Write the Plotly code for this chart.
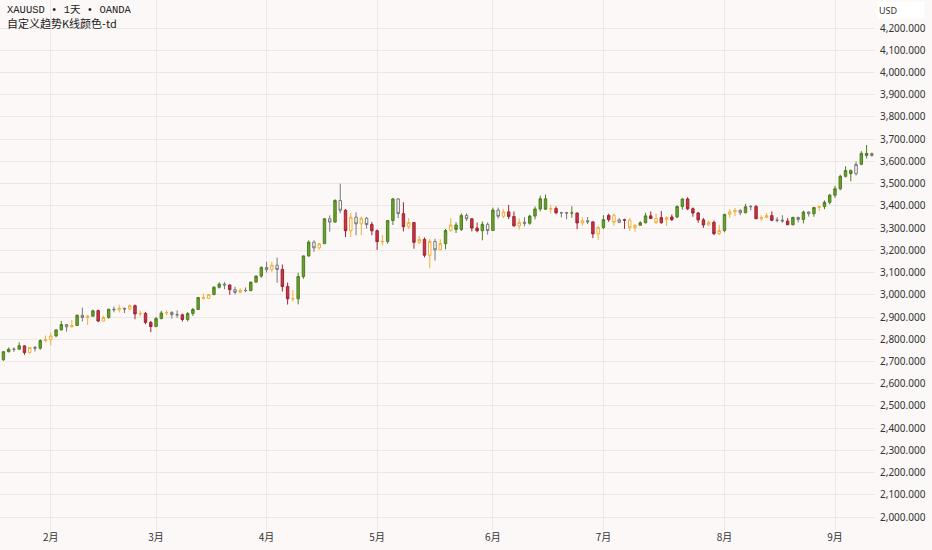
import plotly.graph_objects as go
import pandas as pd

# Séances quotidiennes XAUUSD (OANDA), 21 jan -> 10 sep 2025 (hors week-ends et Vendredi saint)
dates = [d.strftime("%Y-%m-%d") for d in pd.bdate_range("2025-01-21", "2025-09-10")
         if d.strftime("%Y-%m-%d") != "2025-04-18"]

opens = [2708, 2744, 2755, 2755, 2770, 2740, 2763, 2760, 2794,
         2798, 2815, 2842, 2866, 2856, 2862, 2908, 2898, 2904, 2929, 2882,
         2898, 2935, 2933, 2939, 2936, 2951, 2914, 2916, 2876,
         2857, 2893, 2918, 2920, 2911, 2910, 2889, 2916, 2934, 2988,
         2984, 3001, 3034, 3048, 3044, 3023, 3011, 3020, 3019, 3057, 3084,
         3123, 3113, 3133, 3114, 3037, 2982, 2982, 3082, 3175, 3237,
         3211, 3230, 3342, 3327, 3424, 3380, 3288, 3349, 3319, 3344, 3316,
         3288, 3239, 3240, 3334, 3431, 3365, 3306, 3325, 3236, 3249,
         3178, 3240, 3202, 3230, 3289, 3314, 3294, 3357, 3342, 3300, 3288, 3317,
         3289, 3381, 3353, 3373, 3352, 3310, 3326, 3322, 3354, 3386,
         3432, 3385, 3388, 3369, 3369, 3368, 3368, 3323, 3333, 3328, 3274,
         3303, 3338, 3357, 3326, 3337, 3336, 3302, 3313, 3324, 3355,
         3343, 3324, 3347, 3338, 3350, 3397, 3431, 3387, 3368, 3337,
         3314, 3326, 3275,
         3289, 3362, 3373, 3380, 3369, 3396, 3397, 3342, 3348, 3356,
         3335, 3336, 3332, 3315, 3348, 3339, 3372, 3365, 3393, 3397, 3416,
         3448, 3477, 3533, 3559, 3545, 3587, 3636, 3627]
highs = [2745, 2763, 2763, 2786, 2773, 2765, 2770, 2800, 2817,
         2830, 2845, 2882, 2869, 2886, 2911, 2942, 2909, 2933, 2933, 2906,
         2937, 2947, 2955, 2943, 2956, 2956, 2929, 2923, 2882,
         2900, 2928, 2930, 2927, 2930, 2915, 2922, 2941, 2990, 3005,
         3001, 3038, 3056, 3057, 3047, 3036, 3029, 3033, 3059, 3087, 3128,
         3149, 3149, 3167, 3136, 3055, 3022, 3099, 3176, 3245, 3245,
         3233, 3344, 3357, 3430, 3500, 3386, 3368, 3371, 3352, 3350, 3328,
         3294, 3269, 3335, 3436, 3435, 3416, 3345, 3327, 3265, 3258,
         3252, 3252, 3250, 3296, 3345, 3326, 3366, 3366, 3345, 3325, 3330, 3325,
         3392, 3392, 3385, 3404, 3375, 3344, 3349, 3360, 3397, 3446,
         3451, 3403, 3398, 3373, 3373, 3398, 3369, 3348, 3350, 3329, 3309,
         3358, 3365, 3366, 3345, 3342, 3346, 3317, 3331, 3369, 3375,
         3366, 3377, 3353, 3361, 3402, 3433, 3439, 3393, 3373, 3345,
         3334, 3334, 3315,
         3363, 3385, 3390, 3385, 3409, 3404, 3404, 3358, 3368, 3375,
         3349, 3358, 3345, 3351, 3351, 3379, 3376, 3394, 3399, 3424, 3454,
         3490, 3540, 3578, 3564, 3600, 3646, 3674, 3640]
lows = [2703, 2741, 2743, 2753, 2730, 2736, 2745, 2753, 2788,
        2772, 2809, 2840, 2834, 2853, 2859, 2880, 2864, 2902, 2877, 2880,
        2892, 2921, 2921, 2918, 2930, 2890, 2903, 2868, 2832,
        2855, 2890, 2908, 2893, 2896, 2880, 2880, 2905, 2932, 2979,
        2982, 2998, 3028, 3025, 3000, 3002, 3007, 3012, 3016, 3055, 3076,
        3100, 3104, 3054, 3015, 2956, 2970, 2957, 3072, 3171, 3193,
        3203, 3229, 3284, 3324, 3367, 3260, 3260, 3268, 3268, 3299, 3268,
        3202, 3223, 3230, 3314, 3345, 3285, 3296, 3207, 3228, 3168,
        3121, 3154, 3206, 3205, 3284, 3278, 3287, 3331, 3285, 3281, 3245, 3271,
        3287, 3343, 3345, 3340, 3306, 3293, 3308, 3315, 3339, 3375,
        3382, 3366, 3362, 3348, 3340, 3347, 3295, 3311, 3318, 3255, 3247,
        3295, 3328, 3311, 3322, 3296, 3287, 3283, 3310, 3321, 3341,
        3320, 3320, 3310, 3332, 3345, 3383, 3381, 3351, 3324, 3301,
        3309, 3268, 3269,
        3281, 3346, 3353, 3358, 3367, 3380, 3341, 3331, 3347, 3331,
        3326, 3324, 3315, 3312, 3325, 3321, 3352, 3351, 3377, 3385, 3407,
        3436, 3470, 3528, 3511, 3537, 3583, 3613, 3621]
closes = [2744, 2755, 2755, 2771, 2740, 2763, 2760, 2794, 2798,
          2815, 2842, 2866, 2856, 2861, 2908, 2898, 2904, 2928, 2882, 2898,
          2935, 2933, 2939, 2936, 2951, 2914, 2916, 2876, 2857,
          2893, 2918, 2920, 2911, 2910, 2889, 2916, 2934, 2988, 2984,
          3001, 3034, 3048, 3044, 3023, 3011, 3020, 3019, 3057, 3084, 3123,
          3113, 3133, 3114, 3037, 2982, 2982, 3082, 3175, 3237, 3211,
          3230, 3342, 3327, 3424, 3380, 3288, 3349, 3319, 3344, 3316, 3288,
          3239, 3240, 3334, 3431, 3365, 3306, 3325, 3236, 3249, 3178,
          3240, 3202, 3230, 3289, 3314, 3294, 3357, 3342, 3300, 3288, 3317, 3289,
          3381, 3353, 3373, 3352, 3310, 3326, 3322, 3354, 3386, 3432,
          3385, 3388, 3369, 3369, 3368, 3368, 3323, 3333, 3328, 3274, 3303,
          3338, 3357, 3326, 3337, 3336, 3302, 3313, 3324, 3355, 3343,
          3324, 3347, 3338, 3350, 3397, 3431, 3387, 3368, 3337, 3314,
          3326, 3275, 3289,
          3362, 3373, 3380, 3369, 3396, 3397, 3342, 3348, 3356, 3335,
          3336, 3332, 3315, 3348, 3339, 3372, 3365, 3393, 3397, 3416, 3448,
          3477, 3533, 3559, 3545, 3587, 3636, 3627, 3635]

# Couleur de tendance par bougie : g=vert, r=rouge, w=creux gris, o=creux orange
trend = list("ggwgrowgoo" "ggwogwogro" "gwowororrg" "gowwrgggoo"
             "ggwrwowggg" "wowrrogggw" "ogwgwrowow" "rroggwroro"
             "rowogoggwr" "rgwgworrow" "ggggorwwgr" "owrogrowro"
             "oggrororgg" "rrrrorogoo" "wgwroorwwr" "gwgwgoggggg"
             "gwggwo")

month_starts = ["2025-02-03", "2025-03-03", "2025-04-01", "2025-05-01",
                "2025-06-02", "2025-07-01", "2025-08-01", "2025-09-01"]
month_labels = ["2月", "3月", "4月", "5月", "6月", "7月", "8月", "9月"]
price_ticks = list(range(2000, 4201, 100))

styles = {
    "g": dict(fill="#69a130", line="#4f7f20"),
    "r": dict(fill="#cf3444", line="#9e2432"),
    "w": dict(fill="#ffffff", line="#777777"),
    "o": dict(fill="#ffffff", line="#f2b035"),
}

bg = "#fbf8f7"
fig = go.Figure()
for key, st in styles.items():
    keep = [t == key for t in trend]
    pick = lambda arr: [v if k else None for v, k in zip(arr, keep)]
    side = dict(fillcolor=st["fill"], line=dict(color=st["line"], width=1))
    fig.add_trace(go.Candlestick(
        x=dates, open=pick(opens), high=pick(highs), low=pick(lows), close=pick(closes),
        increasing=side, decreasing=side, showlegend=False, hoverinfo="skip"))

fig.update_layout(
    width=932, height=550,
    margin=dict(l=0, r=57, t=0, b=20),
    paper_bgcolor=bg, plot_bgcolor=bg,
    boxgap=0.34,
    font=dict(family="Noto Sans, Noto Sans CJK SC", size=10, color="#333333"),
    xaxis=dict(type="category", categoryorder="array", categoryarray=dates,
               range=[-0.65, 165.6], rangeslider=dict(visible=False),
               tickmode="array", tickvals=month_starts, ticktext=month_labels,
               showgrid=True, gridcolor="#ece8e6", gridwidth=1, ticks="",
               tickfont=dict(family="Noto Sans CJK SC", size=10, color="#333333"),
               showline=False, zeroline=False),
    yaxis=dict(side="right", range=[1942, 4326], tickmode="array", tickvals=price_ticks,
               tickformat=",.3f", showgrid=True, gridcolor="#ece8e6", gridwidth=1,
               ticks="", ticklabelstandoff=4, zeroline=False, showline=False,
               tickfont=dict(family="Noto Sans", size=10, color="#333333")),
)

fig.add_annotation(xref="paper", yref="paper", x=0.006, y=1 - 10 / 530,
                   xanchor="left", yanchor="middle", showarrow=False,
                   text="XAUUSD • 1天 • OANDA",
                   font=dict(family="Liberation Mono, Noto Sans CJK SC", size=10.5, color="#222222"))
fig.add_annotation(xref="paper", yref="paper", x=0.006, y=1 - 23 / 530,
                   xanchor="left", yanchor="middle", showarrow=False,
                   text="自定义趋势K线颜色-td",
                   font=dict(family="Noto Sans CJK SC", size=11, color="#222222"))
fig.add_annotation(xref="paper", yref="paper", x=877 / 875, y=1 - 10 / 530,
                   xanchor="left", yanchor="middle", showarrow=False,
                   text="USD", width=44, height=14, align="left", bgcolor="#ffffff",
                   font=dict(family="Noto Sans", size=9, color="#333333"))

# la page doit commencer au coin (pas de marge du body), sans barre d'outils
fig.write_html("out.html", config={"displayModeBar": False},
               post_script="document.body.style.margin='0px';")
